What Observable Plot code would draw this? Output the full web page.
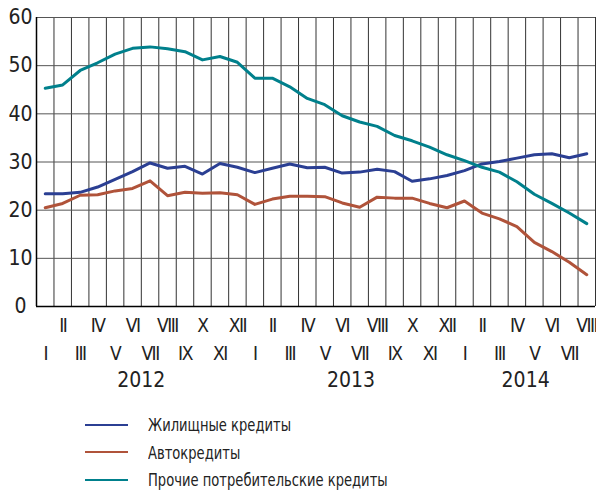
<!DOCTYPE html>
<html>
<head>
<meta charset="utf-8">
<script src="https://cdn.jsdelivr.net/npm/d3@7"></script>
<script src="https://cdn.jsdelivr.net/npm/@observablehq/plot@0.6"></script>
<style>
  html, body { margin: 0; padding: 0; background: #fff; }
  #wrap { position: relative; width: 596px; height: 493px; overflow: hidden; font-family: 'Liberation Sans Narrow', 'DejaVu Sans Condensed', 'DejaVu Sans', sans-serif; font-stretch: condensed; }
  #wrap text, #wrap svg { font-stretch: condensed; }
  #title { position: absolute; top: -15px; left: 0; width: 520px; text-align: center; font-size: 20px; line-height: 20px; font-weight: bold; color: #2b3990; white-space: nowrap; }
  #chart { position: absolute; top: 0; left: 0; }
  #legend { position: absolute; top: 411px; left: 85px; }
  .item { display: flex; align-items: center; height: 27.6px; }
  .swatch { width: 43px; height: 0; border-top: 2.5px solid; margin-right: 20px; flex: none; }
  .label { font-size: 18px; color: #222; display: inline-block; white-space: nowrap; transform: scaleX(0.81); transform-origin: left center; }
</style>
</head>
<body>
<div id="wrap">
  <div id="title">Темпы роста кредитов (%)</div>
  <div id="chart"></div>
  <div id="legend"></div>
</div>
<script>
// ---- data ----
const romanMonths = ["I","II","III","IV","V","VI","VII","VIII","IX","X","XI","XII"];
const monthYears = [
  2012,2012,2012,2012,2012,2012,2012,2012,2012,2012,2012,2012,
  2013,2013,2013,2013,2013,2013,2013,2013,2013,2013,2013,2013,
  2014,2014,2014,2014,2014,2014,2014,2014
];
const monthNumbers = [
  1,2,3,4,5,6,7,8,9,10,11,12,
  1,2,3,4,5,6,7,8,9,10,11,12,
  1,2,3,4,5,6,7,8
];
const housingLoans = [23.4,23.4,23.7,24.8,26.4,28.0,29.8,28.7,29.1,27.5,29.7,28.9,27.8,28.7,29.6,28.8,28.9,27.7,27.9,28.5,28.0,26.0,26.5,27.2,28.2,29.6,30.1,30.8,31.5,31.7,30.9,31.7];
const autoLoans = [20.5,21.4,23.1,23.2,24.0,24.5,26.1,23.0,23.7,23.5,23.6,23.2,21.2,22.3,22.9,22.9,22.8,21.5,20.6,22.7,22.5,22.5,21.4,20.5,21.9,19.4,18.2,16.6,13.3,11.4,9.2,6.6];
const otherLoans = [45.3,46.0,49.0,50.6,52.4,53.6,53.9,53.5,52.9,51.2,51.9,50.7,47.4,47.4,45.6,43.2,41.9,39.6,38.3,37.4,35.5,34.4,33.1,31.5,30.3,28.9,27.9,25.9,23.3,21.4,19.4,17.2];
const seriesNames = ["Жилищные кредиты", "Автокредиты", "Прочие потребительские кредиты"];
const seriesColors = ["#2b3f93", "#b0533a", "#00808c"];
const yTicks = [0,10,20,30,40,50,60];

// ---- build tables ----
const months = monthNumbers.map((m, i) => ({i, pos: i + 0.5, roman: romanMonths[m - 1], year: monthYears[i], even: m % 2 === 0}));
const seriesValues = [housingLoans, autoLoans, otherLoans];
const rows = [];
seriesValues.forEach((vals, s) => vals.forEach((v, i) => rows.push({series: seriesNames[s], pos: months[i].pos, value: v})));
const yearList = Array.from(new Set(monthYears));
const yearLabels = yearList.map(y => {
  const ms = months.filter(d => d.year === y);
  return {year: String(y), pos: d3.mean(ms, d => d.pos)};
});
const boundaries = d3.range(0, months.length + 1);

const font = "'Liberation Sans Narrow', 'DejaVu Sans Condensed', 'DejaVu Sans', sans-serif";
const chart = Plot.plot({
  width: 596,
  height: 400,
  marginLeft: 36,
  marginRight: 1,
  marginTop: 17,
  marginBottom: 94,
  style: {fontFamily: font, color: "#222", background: "white", overflow: "visible"},
  x: {domain: [0, months.length], axis: null},
  y: {domain: [0, 60], axis: null},
  color: {domain: seriesNames, range: seriesColors},
  marks: [
    Plot.ruleX(boundaries, {stroke: "#333", strokeWidth: 1}),
    Plot.ruleY(yTicks, {stroke: "#555", strokeWidth: 1}),
    Plot.ruleY([0], {stroke: "#000", strokeWidth: 1.5}),
    Plot.ruleX([0], {stroke: "#000", strokeWidth: 1.5}),
    Plot.axisY(yTicks, {label: null, tickSize: 0, tickPadding: 16, textAnchor: "middle", fontSize: 21, fill: "#222"}),
    Plot.line(rows, {x: "pos", y: "value", z: "series", stroke: "series", strokeWidth: 3, strokeLinejoin: "round"}),
    Plot.text(months.filter(d => d.even), {x: "pos", text: "roman", frameAnchor: "bottom", dy: 25, fontSize: 19, fill: "#222"}),
    Plot.text(months.filter(d => !d.even), {x: "pos", text: "roman", frameAnchor: "bottom", dy: 53, fontSize: 19, fill: "#222"}),
    Plot.text(yearLabels, {x: "pos", text: "year", frameAnchor: "bottom", dy: 80, fontSize: 21, fill: "#222"})
  ]
});
d3.select(chart).selectAll("text").style("font-stretch", "condensed");
d3.select(chart).selectAll("text").filter(function() { return /^[IVX]+$/.test(this.textContent); })
  .attr("letter-spacing", "-1.5");
document.getElementById("chart").appendChild(chart);

// ---- legend ----
const legend = document.getElementById("legend");
seriesNames.forEach((name, k) => {
  const item = document.createElement("div");
  item.className = "item";
  const sw = document.createElement("div");
  sw.className = "swatch";
  sw.style.borderTopColor = seriesColors[k];
  const lb = document.createElement("div");
  lb.className = "label";
  lb.textContent = name;
  item.appendChild(sw);
  item.appendChild(lb);
  legend.appendChild(item);
});
</script>
</body>
</html>
